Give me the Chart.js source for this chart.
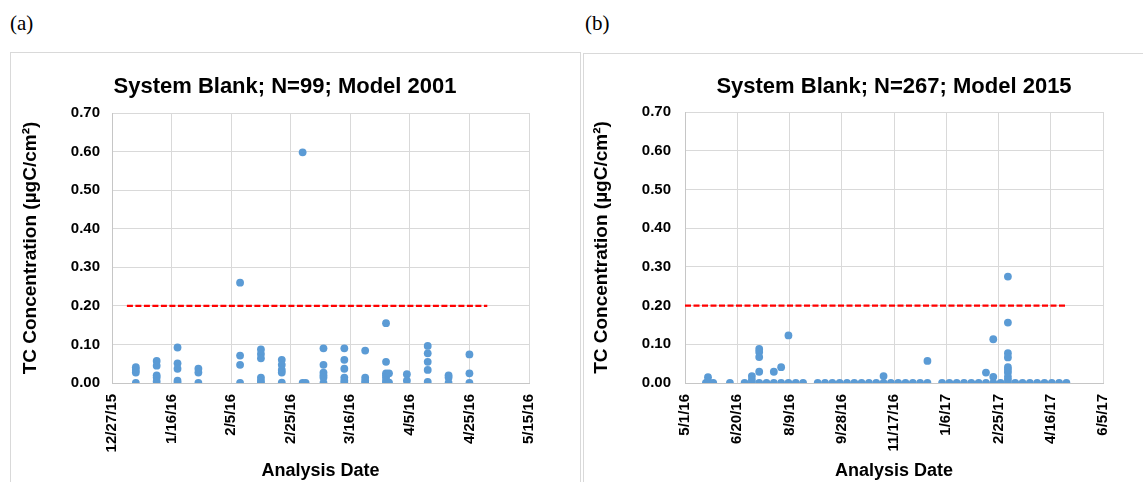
<!DOCTYPE html>
<html>
<head>
<meta charset="utf-8">
<script src="https://cdn.jsdelivr.net/npm/chart.js@4.4.1/dist/chart.umd.min.js"></script>
<style>
  body { margin: 0; background: #fff; width: 1143px; height: 482px; overflow: hidden; position: relative; font-family: 'Liberation Sans', Arial, sans-serif; }
  .tag { position: absolute; top: 13px; font: 21px/20px 'Liberation Serif', 'Times New Roman', serif; color: #000; }
  .box { position: absolute; border: 1px solid #d9d9d9; height: 460px; }
  .ttl { position: absolute; top: 75px; transform: translateX(-50%); white-space: nowrap; font: bold 22px/22px 'Liberation Sans', Arial, sans-serif; color: #000; }
  canvas { position: absolute; }
</style>
</head>
<body>
<div class="tag" style="left:10px">(a)</div>
<div class="tag" style="left:585px">(b)</div>
<div class="box" style="left:10px; top:52px; width:569px"></div>
<div class="box" style="left:583px; top:53px; width:600px"></div>
<canvas id="chartA" width="568" height="429" style="left:11px; top:53px"></canvas>
<canvas id="chartB" width="559" height="428" style="left:584px; top:54px"></canvas>
<div class="ttl" style="left:285px">System Blank; N=99; Model 2001</div>
<div class="ttl" style="left:894px">System Blank; N=267; Model 2015</div>
<script>
// ---- panel (a) : Model 2001 ----
const ticksA = ['12/27/15', '1/16/16', '2/5/16', '2/25/16', '3/16/16', '4/5/16', '4/25/16', '5/15/16'];
const limitA = ['1/1/16', '5/1/16'];
const datesA = ['1/4/16', '1/11/16', '1/18/16', '1/25/16', '2/8/16', '2/15/16', '2/22/16', '2/29/16', '3/1/16',
  '3/7/16', '3/14/16', '3/21/16', '3/28/16', '3/29/16', '4/4/16', '4/11/16', '4/18/16', '4/25/16'];
const valuesA = [
  [0.041, 0.034, 0.027, 0],
  [0.057, 0.045, 0.020, 0.014, 0.004],
  [0.092, 0.051, 0.037, 0.006, 0],
  [0.037, 0.027, 0],
  [0.260, 0.071, 0.047, 0],
  [0.087, 0.075, 0.064, 0.014, 0.006, 0],
  [0.060, 0.047, 0.034, 0.027, 0.001],
  [0.598, 0],
  [0],
  [0.090, 0.047, 0.027, 0.020, 0.014, 0],
  [0.090, 0.060, 0.037, 0.014, 0.006, 0],
  [0.084, 0.014, 0.006, 0],
  [0.155, 0.055, 0.025, 0.020, 0.014, 0.006, 0.001],
  [0.025, 0.001],
  [0.023, 0.006],
  [0.096, 0.077, 0.055, 0.034, 0.003],
  [0.020, 0.014, 0],
  [0.074, 0.025, 0]
];

// ---- panel (b) : Model 2015 ----
const ticksB = ['5/1/16', '6/20/16', '8/9/16', '9/28/16', '11/17/16', '1/6/17', '2/25/17', '4/16/17', '6/5/17'];
const limitB = ['5/1/16', '5/1/17'];
const datesB = ['5/21/16', '5/23/16', '5/28/16', '6/13/16', '6/27/16', '7/4/16', '7/11/16', '7/18/16', '7/25/16',
  '8/1/16', '8/8/16', '8/15/16', '8/22/16', '9/5/16', '9/12/16', '9/19/16', '9/26/16', '10/3/16', '10/10/16',
  '10/17/16', '10/24/16', '10/31/16', '11/7/16', '11/14/16', '11/21/16', '11/28/16', '12/5/16', '12/12/16',
  '12/19/16', '1/2/17', '1/9/17', '1/16/17', '1/23/17', '1/30/17', '2/6/17', '2/13/17', '2/20/17', '2/27/17',
  '3/6/17', '3/13/17', '3/20/17', '3/27/17', '4/3/17', '4/10/17', '4/17/17', '4/24/17', '5/1/17'];
const valuesB = [
  [0], [0.015, 0.004, 0], [0], [0], [0], [0.018, 0.008, 0], [0.088, 0.080, 0.067, 0.029, 0], [0], [0.029, 0],
  [0.041, 0], [0.123, 0], [0], [0], [0], [0], [0], [0], [0], [0],
  [0], [0], [0], [0.018, 0], [0], [0], [0], [0], [0],
  [0.057, 0], [0], [0], [0], [0], [0], [0], [0.027, 0], [0.113, 0.016, 0], [0],
  [0.275, 0.156, 0.077, 0.066, 0.041, 0.034, 0.027, 0.016, 0.008, 0], [0], [0], [0], [0], [0], [0], [0], [0]
];
const limitValue = 0.2;

const FONT = "'Liberation Sans', Arial, sans-serif";

// m/d/yy -> day number
function day(s) {
  const [m, d, y] = s.split('/').map(Number);
  return Date.UTC(2000 + y, m - 1, d) / 86400000;
}

function makeChart(id, ticks, limit, dates, values, pad, yWidth, xHeight, tickPad) {
  const points = dates.flatMap((d, i) => values[i].map(v => ({ x: day(d), y: v })));
  return new Chart(document.getElementById(id), {
    type: 'scatter',
    data: {
      datasets: [
        { data: points, backgroundColor: '#5b9bd5', borderWidth: 0, pointRadius: 3.9 },
        { type: 'line', data: limit.map(d => ({ x: day(d), y: limitValue })), borderColor: '#ff0000',
          borderWidth: 2.3, borderDash: [6, 2.5], pointRadius: 0, fill: false }
      ]
    },
    options: {
      responsive: false, animation: false, events: [],
      layout: { padding: pad },
      plugins: { legend: { display: false }, tooltip: { enabled: false } },
      scales: {
        x: {
          type: 'linear', min: day(ticks[0]), max: day(ticks[ticks.length - 1]),
          afterBuildTicks: s => { s.ticks = ticks.map(t => ({ value: day(t) })); },
          afterFit: s => { s.height = xHeight; },
          grid: { color: '#d9d9d9', drawTicks: false },
          border: { color: '#c6c6c6' },
          ticks: { autoSkip: false, minRotation: 90, maxRotation: 90, padding: 11, color: '#000',
            font: { family: FONT, size: 15, weight: 'bold' }, callback: (v, i) => ticks[i] },
          title: { display: true, text: 'Analysis Date', color: '#000', padding: 0,
            font: { family: FONT, size: 18, weight: 'bold' } }
        },
        y: {
          min: 0, max: 0.7,
          afterFit: s => { s.width = yWidth; },
          grid: { color: '#d9d9d9', drawTicks: false },
          border: { color: '#c6c6c6' },
          ticks: { stepSize: 0.1, padding: tickPad, color: '#000',
            font: { family: FONT, size: 15, weight: 'bold' }, callback: v => v.toFixed(2) },
          title: { display: true, text: 'TC Concentration (µgC/cm²)', color: '#000', padding: 0,
            font: { family: FONT, size: 19, weight: 'bold' } }
        }
      }
    }
  });
}

makeChart('chartA', ticksA, limitA, datesA, valuesA, { left: 8, top: 60, right: 50, bottom: 0 }, 93, 99, 12);
makeChart('chartB', ticksB, limitB, datesB, valuesB, { left: 6, top: 58, right: 40, bottom: 0 }, 95, 99, 14);
</script>
</body>
</html>
